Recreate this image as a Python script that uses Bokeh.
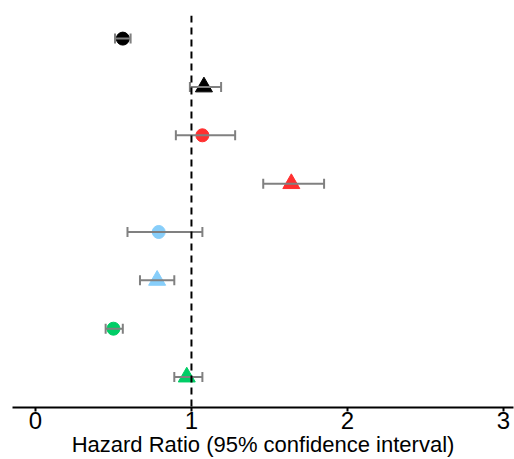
from bokeh.plotting import figure
from bokeh.models import ColumnDataSource, Range1d, Whisker, TeeHead, Span, FixedTicker
from bokeh.embed import file_html
from bokeh.resources import INLINE

# data (top row first)
rows = [8, 7, 6, 5, 4, 3, 2, 1]
hr = [0.56, 1.08, 1.07, 1.64, 0.79, 0.78, 0.50, 0.97]
lower = [0.51, 0.99, 0.90, 1.46, 0.59, 0.67, 0.45, 0.89]
upper = [0.61, 1.19, 1.28, 1.85, 1.07, 0.89, 0.56, 1.07]
markers = ["circle", "triangle", "circle", "triangle", "circle", "triangle", "circle", "triangle"]
colors = ["#000000", "#000000", "#ff3030", "#ff3030", "#87cefa", "#87cefa", "#00cd66", "#00cd66"]
sizes = [13, 17, 13, 17, 13, 17, 13, 17]
x_ticks = [0, 1, 2, 3]
x_label = "Hazard Ratio (95% confidence interval)"

src = ColumnDataSource(dict(y=rows, hr=hr, lower=lower, upper=upper,
                            marker=markers, color=colors, size=sizes))

p = figure(width=514, height=459, output_backend="svg", toolbar_location=None,
           x_range=Range1d(-0.147, 3.064), y_range=Range1d(0.37, 8.478),
           min_border_left=12, min_border_right=1, min_border_top=15, min_border_bottom=0)

p.scatter("hr", "y", source=src, marker="marker", fill_color="color",
          line_color="color", size="size")

w = Whisker(source=src, base="y", lower="lower", upper="upper", dimension="width",
            line_color="#808080", line_width=2, level="annotation",
            lower_head=TeeHead(size=10, line_color="#808080", line_width=2),
            upper_head=TeeHead(size=10, line_color="#808080", line_width=2))
p.add_layout(w)

p.add_layout(Span(location=1, dimension="height", line_color="black",
                  line_width=2, line_dash="7 5"))

p.yaxis.visible = False
p.xgrid.visible = False
p.ygrid.visible = False
p.outline_line_color = None

ax = p.xaxis[0]
ax.ticker = FixedTicker(ticks=x_ticks)
ax.minor_tick_line_color = None
ax.major_tick_out = 4
ax.major_tick_in = 0
ax.major_tick_line_width = 2
ax.axis_line_width = 2
ax.axis_line_color = "black"
ax.major_label_text_font = "Liberation Sans"
ax.major_label_text_font_size = "24px"
ax.major_label_text_color = "black"
ax.major_label_standoff = 0
ax.axis_label = x_label
ax.axis_label_text_font = "Liberation Sans"
ax.axis_label_text_font_size = "22px"
ax.axis_label_text_font_style = "normal"
ax.axis_label_text_color = "black"
ax.axis_label_standoff = 0

open("out.html", "w").write(file_html(p, INLINE))
